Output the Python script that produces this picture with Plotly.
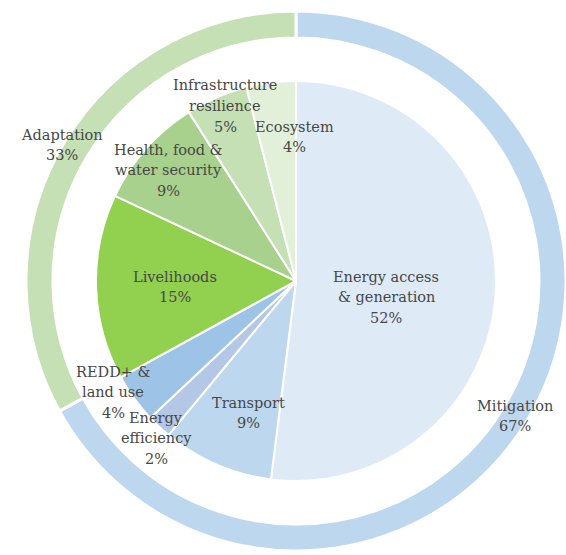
import plotly.graph_objects as go

W, H = 566, 555

# Outer ring data
group_labels = ["Mitigation", "Adaptation"]
group_values = [67, 33]
group_colors = ["#BDD7EE", "#C5E0B4"]

# Inner pie data
sector_labels = ["Energy access<br>& generation", "Transport", "Energy<br>efficiency",
                 "REDD+ &<br>land use", "Livelihoods", "Health, food &<br>water security",
                 "Infrastructure<br>resilience", "Ecosystem"]
sector_values = [52, 9, 2, 4, 15, 9, 5, 4]
sector_colors = ["#DEEBF7", "#BDD7EE", "#B4C7E7", "#9DC3E6",
                 "#92D050", "#A9D18E", "#C5E0B4", "#E2F0D9"]

# label placement (pixel centres of text blocks)
sector_label_pos = [(386, 297), (248, 413), (156, 438), (113, 392),
                    (175, 287), (168, 170), (225, 106), (294, 137)]
group_label_pos = [(515, 416), (62, 145)]

cx, cy = 296, 281
r_out, r_in = 270, 200

def dom(r):
    return dict(x=[max(0, (cx - r) / W), min(1, (cx + r) / W)],
                y=[1 - (cy + r) / H, 1 - (cy - r) / H])

fig = go.Figure()
fig.add_trace(go.Pie(labels=group_labels, values=group_values, sort=False,
                     direction="clockwise", rotation=0, hole=0.9,
                     marker=dict(colors=group_colors, line=dict(color="white", width=3)),
                     textinfo="none", hoverinfo="label+percent", domain=dom(r_out)))
fig.add_trace(go.Pie(labels=sector_labels, values=sector_values, sort=False,
                     direction="clockwise", rotation=0,
                     marker=dict(colors=sector_colors, line=dict(color="white", width=2)),
                     textinfo="none", hoverinfo="label+percent", domain=dom(r_in)))

font = dict(family="DejaVu Serif", size=14.5, color="#474747")
line_h = 20.5

def add_label(text, pos, pct):
    lines = text.split("<br>") + [f"{pct}%"]
    n = len(lines)
    x, y = pos
    for i, ln in enumerate(lines):
        ly = y + (i - (n - 1) / 2) * line_h
        fig.add_annotation(x=x / W, y=1 - ly / H, xref="paper", yref="paper",
                           text=ln, showarrow=False, font=font,
                           xanchor="center", yanchor="middle")

tot_s = sum(sector_values)
for lab, v, p in zip(sector_labels, sector_values, sector_label_pos):
    add_label(lab, p, round(100 * v / tot_s))
tot_g = sum(group_values)
for lab, v, p in zip(group_labels, group_values, group_label_pos):
    add_label(lab, p, round(100 * v / tot_g))

fig.update_layout(width=W, height=H, margin=dict(l=0, r=0, t=0, b=0),
                  paper_bgcolor="white", plot_bgcolor="white", showlegend=False)
fig.write_html("out.html", config={"displayModeBar": False})

# remove default page margin so the figure sits at the window origin
with open("out.html", encoding="utf-8") as f:
    html = f.read()
html = html.replace("<head>", "<head><style>html,body{margin:0;padding:0;overflow:hidden;}</style>", 1)
with open("out.html", "w", encoding="utf-8") as f:
    f.write(html)
